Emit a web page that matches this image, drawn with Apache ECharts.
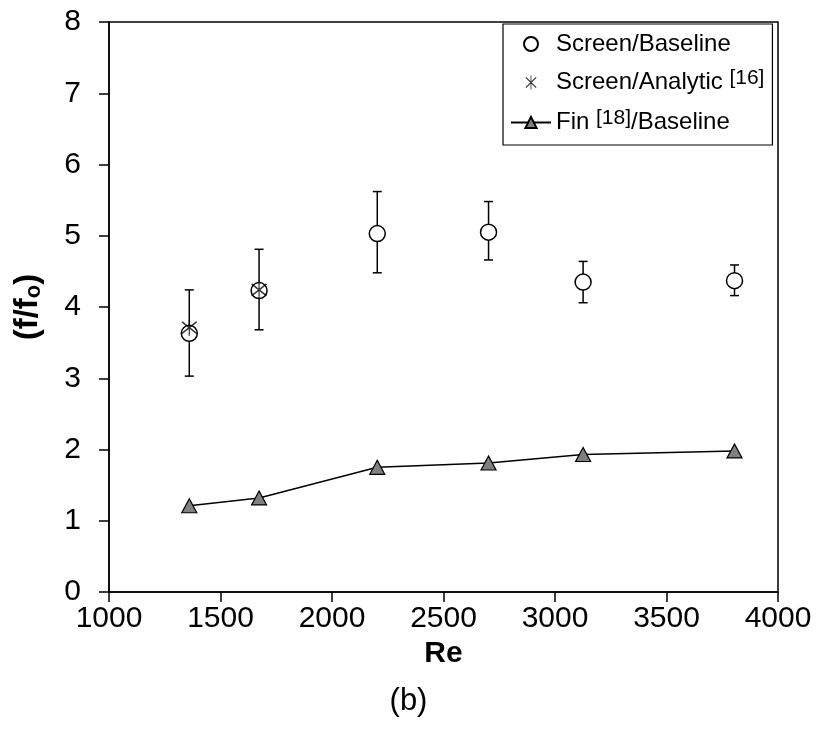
<!DOCTYPE html>
<html>
<head>
<meta charset="utf-8">
<script src="https://cdn.jsdelivr.net/npm/echarts@6/dist/echarts.min.js"></script>
<style>
  html, body { margin: 0; padding: 0; background: #fff; }
  #chart { width: 817px; height: 750px; }
</style>
</head>
<body>
<div id="chart"></div>
<script>
// Reynolds numbers of the test points
const reValues = [1360, 1673, 2203, 2702, 3126, 3805];
// Screen / baseline friction factor ratio with its uncertainty band
const screenBaseline = [3.63, 4.23, 5.03, 5.05, 4.35, 4.37];
const screenLow = [3.03, 3.68, 4.48, 4.66, 4.06, 4.16];
const screenHigh = [4.24, 4.81, 5.62, 5.48, 4.64, 4.59];
// Screen / analytic prediction [16]
const analyticRe = [1360, 1673];
const screenAnalytic = [3.71, 4.24];
// Fin [18] / baseline
const finBaseline = [1.21, 1.32, 1.75, 1.81, 1.93, 1.98];
// Axis ranges and tick steps
const xRange = [1000, 4000, 500];
const yRange = [0, 8, 1];

const FONT = '"Liberation Sans", Arial, sans-serif';

// Six-armed asterisk built from three thin bars
const ASTERISK = 'path://M47,0 L53,0 L53,100 L47,100 Z M10,16 L16,10 L90,84 L84,90 Z M84,10 L90,16 L16,90 L10,84 Z';

const legendText = {
  'Screen/Baseline': '{n|Screen/Baseline}',
  'Screen/Analytic [16]': '{n|Screen/Analytic }{sup|[16]}',
  'Fin [18]/Baseline': '{n|Fin }{sup|[18]}{n|/Baseline}'
};

const chart = echarts.init(document.getElementById('chart'), null, { renderer: 'canvas' });

const option = {
  animation: false,
  backgroundColor: '#fff',
  textStyle: { fontFamily: FONT },
  title: {
    text: '(b)',
    left: 'center',
    top: 686,
    padding: 0,
    textStyle: { fontFamily: FONT, fontSize: 31, fontWeight: 'normal', color: '#000' }
  },
  grid: {
    left: 109, right: 39, top: 22, bottom: 158,
    show: true, borderColor: '#000', borderWidth: 1.5, backgroundColor: 'transparent'
  },
  legend: {
    orient: 'vertical',
    left: 503,
    top: 24,
    padding: [7, 8, 8, 7],
    itemGap: 11,
    itemWidth: 40,
    itemHeight: 14,
    borderColor: '#000',
    borderWidth: 1.2,
    borderRadius: 0,
    backgroundColor: '#fff',
    data: [
      { name: 'Screen/Baseline' },
      { name: 'Screen/Analytic [16]', icon: ASTERISK },
      { name: 'Fin [18]/Baseline' }
    ],
    formatter: name => legendText[name],
    textStyle: {
      color: '#000',
      fontFamily: FONT,
      fontSize: 24,
      lineHeight: 26,
      rich: {
        n: { fontSize: 24, fontFamily: FONT, color: '#000', lineHeight: 26 },
        sup: { fontSize: 21, fontFamily: FONT, color: '#000', padding: [0, 0, 8, 0], lineHeight: 26 }
      }
    }
  },
  xAxis: {
    type: 'value',
    min: xRange[0], max: xRange[1], interval: xRange[2],
    name: 'Re',
    nameLocation: 'middle',
    nameGap: 32,
    nameTextStyle: { fontFamily: FONT, fontSize: 30, fontWeight: 'bold', color: '#000' },
    axisLine: { show: true, onZero: false, lineStyle: { color: '#000', width: 1.5 } },
    axisTick: { show: true, inside: false, length: 10, lineStyle: { color: '#000', width: 1.5 } },
    axisLabel: { fontFamily: FONT, fontSize: 30, color: '#000', margin: 12, formatter: v => String(v) },
    splitLine: { show: false }
  },
  yAxis: {
    type: 'value',
    min: yRange[0], max: yRange[1], interval: yRange[2],
    name: '{b|(f/f}{s|o}{b|)}',
    nameLocation: 'middle',
    nameGap: 64,
    nameRotate: 90,
    nameTextStyle: {
      rich: {
        b: { fontFamily: FONT, fontSize: 33, fontWeight: 'bold', color: '#000' },
        s: { fontFamily: FONT, fontSize: 22, fontWeight: 'bold', color: '#000', padding: [12, 0, 0, 0] }
      }
    },
    axisLine: { show: true, lineStyle: { color: '#000', width: 1.5 } },
    axisTick: { show: true, inside: false, length: 10, lineStyle: { color: '#000', width: 1.5 } },
    axisLabel: { fontFamily: FONT, fontSize: 30, color: '#000', margin: 28 },
    splitLine: { show: false }
  },
  series: [
    {
      // vertical uncertainty bars with end caps
      name: 'errorbars',
      type: 'custom',
      silent: true,
      z: 2,
      data: reValues.map((x, i) => [x, screenLow[i], screenHigh[i]]),
      renderItem: (params, api) => {
        const x = api.value(0);
        const lo = api.coord([x, api.value(1)]);
        const hi = api.coord([x, api.value(2)]);
        const cap = 4.5;
        const style = { stroke: '#000', lineWidth: 1.5 };
        return {
          type: 'group',
          children: [
            { type: 'line', shape: { x1: lo[0], y1: lo[1], x2: hi[0], y2: hi[1] }, style },
            { type: 'line', shape: { x1: hi[0] - cap, y1: hi[1], x2: hi[0] + cap, y2: hi[1] }, style },
            { type: 'line', shape: { x1: lo[0] - cap, y1: lo[1], x2: lo[0] + cap, y2: lo[1] }, style }
          ]
        };
      }
    },
    {
      name: 'Screen/Baseline',
      type: 'scatter',
      z: 3,
      symbol: 'circle',
      symbolSize: 16,
      itemStyle: { color: '#fff', borderColor: '#000', borderWidth: 1.5, opacity: 1 },
      data: reValues.map((x, i) => [x, screenBaseline[i]])
    },
    {
      name: 'Screen/Analytic [16]',
      type: 'scatter',
      z: 4,
      symbol: ASTERISK,
      symbolSize: 16,
      itemStyle: { color: '#000' },
      data: analyticRe.map((x, i) => [x, screenAnalytic[i]])
    },
    {
      name: 'Fin [18]/Baseline',
      type: 'line',
      z: 3,
      symbol: 'triangle',
      symbolSize: [15, 14],
      showAllSymbol: true,
      lineStyle: { color: '#000', width: 1.5 },
      itemStyle: { color: '#808080', borderColor: '#000', borderWidth: 1.2 },
      data: reValues.map((x, i) => [x, finBaseline[i]])
    }
  ]
};

chart.setOption(option);
</script>
</body>
</html>
